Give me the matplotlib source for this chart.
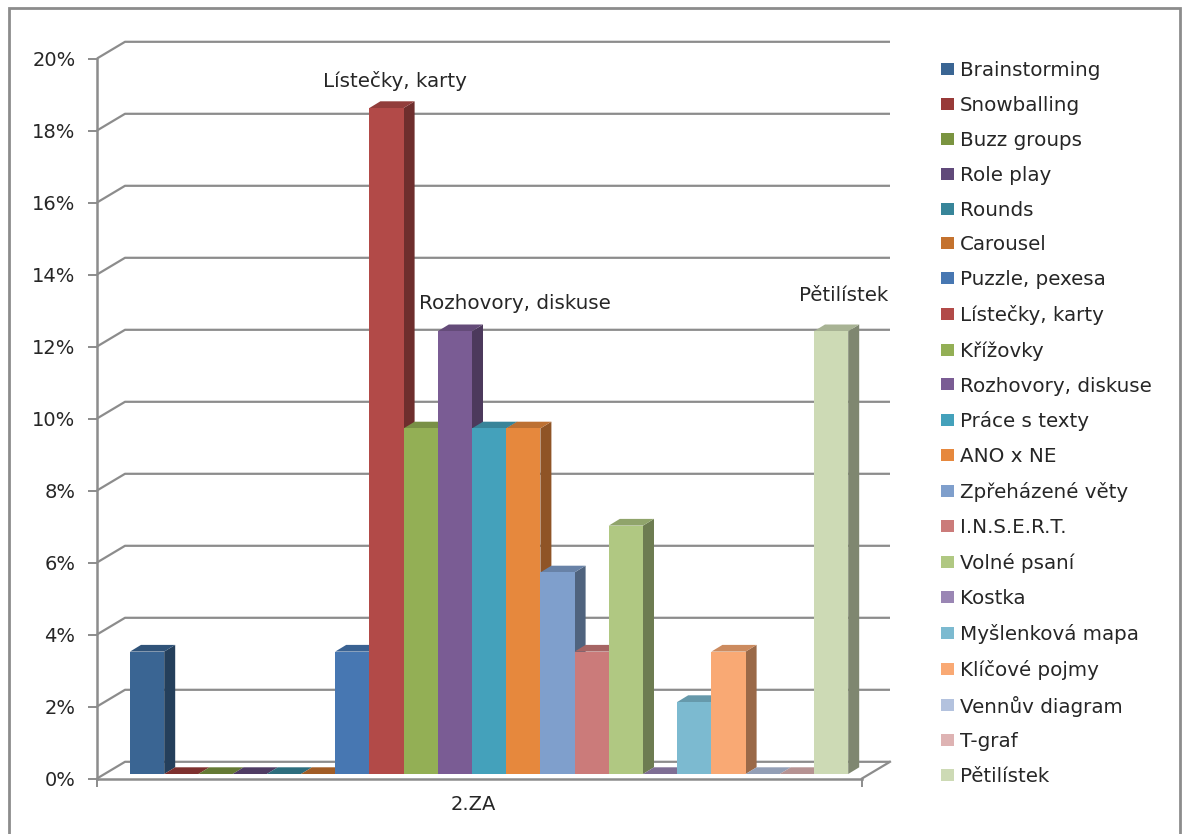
import numpy as np
import matplotlib
matplotlib.use("Agg")
import matplotlib.pyplot as plt
from matplotlib.colors import to_rgb
from matplotlib.patches import Polygon, Rectangle

# Share of each teaching method in class 2.ZA, in percent
methods = ["Brainstorming", "Snowballing", "Buzz groups", "Role play", "Rounds",
           "Carousel", "Puzzle, pexesa", "Lístečky, karty", "Křížovky",
           "Rozhovory, diskuse", "Práce s texty", "ANO x NE", "Zpřeházené věty",
           "I.N.S.E.R.T.", "Volné psaní", "Kostka", "Myšlenková mapa",
           "Klíčové pojmy", "Vennův diagram", "T-graf", "Pětilístek"]
shares = [3.4, 0, 0, 0, 0, 0, 3.4, 18.5, 9.6, 12.3, 9.6, 9.6, 5.6, 3.4, 6.9,
          0, 2.0, 3.4, 0, 0, 12.3]
colors = ["#3A6593", "#983A38", "#7A9440", "#60497A", "#378599", "#C4722E",
          "#4777B2", "#B24A48", "#93AF55", "#7A5C94", "#44A1BB", "#E6883D",
          "#7F9FCC", "#CB7B7A", "#B0C882", "#9A86B4", "#7CBAD0", "#F9A974",
          "#B3C2DE", "#DEB3B3", "#CDDAB5"]
y_ticks = [0, 2, 4, 6, 8, 10, 12, 14, 16, 18, 20]
category = "2.ZA"

W, H = 1184, 834
GRAY = "#8C8C8C"
TEXT = "#262626"
FONT = "DejaVu Sans"
plt.rcParams["font.family"] = FONT

fig = plt.figure(figsize=(W / 100, H / 100), dpi=100, facecolor="white")

# Outer chart frame, open at the lower edge of the canvas
fig.add_artist(Rectangle((9 / W, -0.02), 1170.5 / W, 1.02 - 8 / H,
                         transform=fig.transFigure, fill=False,
                         edgecolor=GRAY, linewidth=2))

# The axes span the front plane of the box
left, right, bottom, top = 97, 862, 778.5, 58.5
ax = fig.add_axes([left / W, 1 - bottom / H, (right - left) / W, (bottom - top) / H])
ax.patch.set_alpha(0)

bar_px = 34.2
first_bar_px = 130
px_per_pct = (bottom - top) / 20
ax.set_xlim((left - first_bar_px) / bar_px, (right - first_bar_px) / bar_px)
ax.set_ylim(0, 20)

def px_x(px):
    return px / bar_px

def px_y(px):
    return px / px_per_pct

x0, x1 = ax.get_xlim()

# Box walls: back gridlines, their links to the front axis and the floor outline
wall_dx, wall_dy = px_x(28), px_y(16.7)
for t in y_ticks:
    ax.plot([x0, x0 + wall_dx, x1 + wall_dx], [t, t + wall_dy, t + wall_dy],
            color=GRAY, lw=1.6, clip_on=False, zorder=1, solid_capstyle="butt")
ax.plot([x1, x1 + wall_dx], [0, wall_dy], color=GRAY, lw=1.6, clip_on=False, zorder=1)

# Bars: a flat front face plus a shaded side and top for depth
depth_dx, depth_dy = px_x(11), px_y(6.7)
floor = px_y(4.5)
for i, (name, value, color) in enumerate(zip(methods, shares, colors)):
    rgb = np.array(to_rgb(color))
    z = 2 + i * 0.01
    xl, xr = i, i + 1
    yb, yt = floor, floor + value
    if value > 0:
        ax.add_patch(Polygon([(xr, yb), (xr + depth_dx, yb + depth_dy),
                              (xr + depth_dx, yt + depth_dy), (xr, yt)],
                             facecolor=rgb * 0.62, edgecolor="none", zorder=z, clip_on=False))
    ax.add_patch(Polygon([(xl, yt), (xl + depth_dx, yt + depth_dy),
                          (xr + depth_dx, yt + depth_dy), (xr, yt)],
                         facecolor=rgb * 0.82, edgecolor="none", zorder=z, clip_on=False))
    ax.bar(xl, value, width=1, bottom=yb, align="edge", color=color, label=name,
           linewidth=0, zorder=z + 0.001, clip_on=False)

# Axis lines, ticks and labels
for side in ("top", "right"):
    ax.spines[side].set_visible(False)
for side in ("left", "bottom"):
    ax.spines[side].set_color(GRAY)
    ax.spines[side].set_linewidth(1.8)
    ax.spines[side].set_zorder(1.5)

ax.set_yticks(y_ticks, [f"{t}%" for t in y_ticks])
ax.tick_params(axis="y", length=6.5, width=1.4, color=GRAY, labelcolor=TEXT,
               labelsize=14, pad=9)
ax.set_xticks([x0, x1], ["", ""])
ax.tick_params(axis="x", which="major", length=5.5, width=1.4, color=GRAY)
ax.set_xticks([px_x(473 - first_bar_px)], [category], minor=True)
ax.tick_params(axis="x", which="minor", length=0, labelcolor=TEXT, labelsize=14, pad=12)

# Callouts over the three most used methods
callouts = {"Lístečky, karty": (8, 27), "Rozhovory, diskuse": (60, 28), "Pětilístek": (13, 36)}
for name, (off_x, off_y) in callouts.items():
    i = methods.index(name)
    ax.annotate(name, xy=(i + 0.5, floor + shares[i]),
                xytext=(off_x * 0.72, off_y * 0.72), textcoords="offset points",
                ha="center", va="center", fontsize=14.3, color=TEXT, zorder=5)

# Single-column legend on the right
ax.legend(loc="upper left", bbox_to_anchor=(941 / W, 1 - 61 / H),
          bbox_transform=fig.transFigure, frameon=False, ncols=1,
          fontsize=14.3, labelcolor=TEXT, handlelength=0.655, handleheight=0.55,
          handletextpad=0.3, labelspacing=0.8, borderpad=0, borderaxespad=0)

fig.savefig("out.png", dpi=100)
